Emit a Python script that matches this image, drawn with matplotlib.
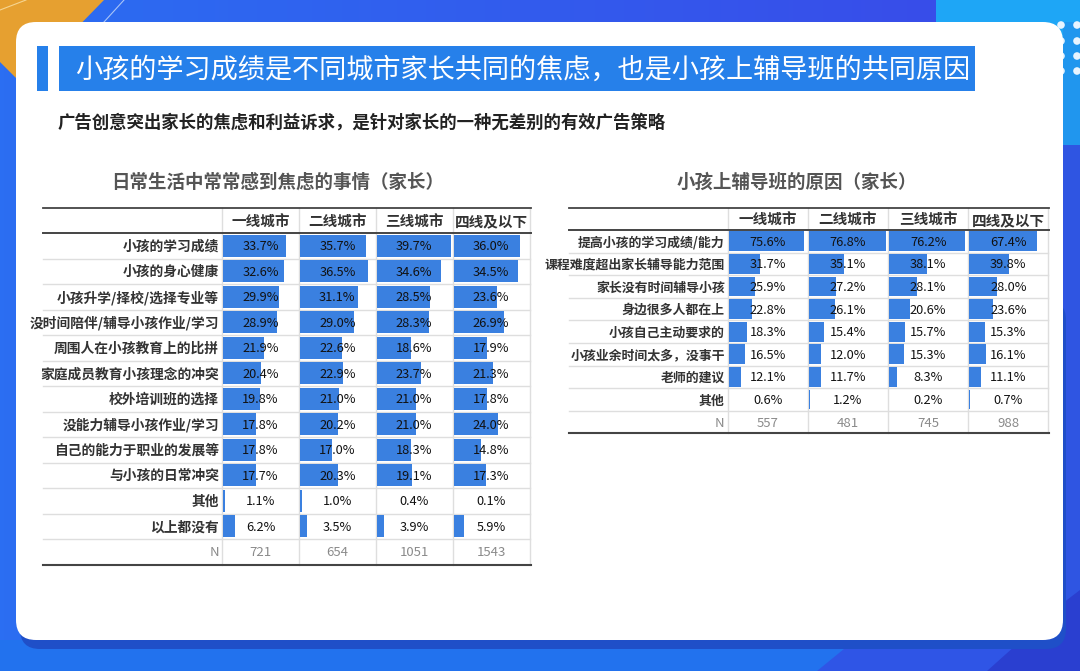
import numpy as np
import matplotlib
matplotlib.use('Agg')
import matplotlib.pyplot as plt
from matplotlib.patches import FancyBboxPatch, Rectangle, Polygon, Circle

plt.rcParams['font.family'] = ['Noto Sans CJK SC', 'DejaVu Sans']

W, H = 1080, 671

columns = ['一线城市', '二线城市', '三线城市', '四线及以下']

left_title = '日常生活中常常感到焦虑的事情（家长）'
left_labels = ['小孩的学习成绩', '小孩的身心健康', '小孩升学/择校/选择专业等', '没时间陪伴/辅导小孩作业/学习',
               '周围人在小孩教育上的比拼', '家庭成员教育小孩理念的冲突', '校外培训班的选择', '没能力辅导小孩作业/学习',
               '自己的能力于职业的发展等', '与小孩的日常冲突', '其他', '以上都没有']
left_tier1 = [33.7, 32.6, 29.9, 28.9, 21.9, 20.4, 19.8, 17.8, 17.8, 17.7, 1.1, 6.2]
left_tier2 = [35.7, 36.5, 31.1, 29.0, 22.6, 22.9, 21.0, 20.2, 17.0, 20.3, 1.0, 3.5]
left_tier3 = [39.7, 34.6, 28.5, 28.3, 18.6, 23.7, 21.0, 21.0, 18.3, 19.1, 0.4, 3.9]
left_tier4 = [36.0, 34.5, 23.6, 26.9, 17.9, 21.3, 17.8, 24.0, 14.8, 17.3, 0.1, 5.9]
left_n = [721, 654, 1051, 1543]

right_title = '小孩上辅导班的原因（家长）'
right_labels = ['提高小孩的学习成绩/能力', '课程难度超出家长辅导能力范围', '家长没有时间辅导小孩', '身边很多人都在上',
                '小孩自己主动要求的', '小孩业余时间太多，没事干', '老师的建议', '其他']
right_tier1 = [75.6, 31.7, 25.9, 22.8, 18.3, 16.5, 12.1, 0.6]
right_tier2 = [76.8, 35.1, 27.2, 26.1, 15.4, 12.0, 11.7, 1.2]
right_tier3 = [76.2, 38.1, 28.1, 20.6, 15.7, 15.3, 8.3, 0.2]
right_tier4 = [67.4, 39.8, 28.0, 23.6, 15.3, 16.1, 11.1, 0.7]
right_n = [557, 481, 745, 988]

BAR = '#3a80e0'
GRID = '#dedede'

fig = plt.figure(figsize=(W / 100, H / 100), dpi=100)
bg = fig.add_axes([0, 0, 1, 1])
bg.axis('off')

# background
grad = np.linspace(0, 1, 256).reshape(1, -1)
cm = matplotlib.colors.LinearSegmentedColormap.from_list('b', ['#2b6ef2', '#3a48e8'])
bg.imshow(grad, extent=[0, W, H, 0], cmap=cm, aspect='auto', zorder=0)
bg.set_xlim(0, W)
bg.set_ylim(H, 0)
bg.add_patch(Rectangle((0, 640), 860, 31, fc='#2272ee', ec='none', zorder=1))
bg.add_patch(Polygon([(817, 671), (855, 640), (1080, 640), (1080, 671)], fc='#2f55e6', ec='none', zorder=1))
bg.add_patch(Rectangle((1060, 145), 20, 500, fc='#2f55e2', ec='none', zorder=1))
bg.add_patch(Polygon([(987, 671), (1063, 603), (1080, 590), (1080, 671)], fc='#2a3fd0', ec='none', zorder=1))
bg.add_patch(Polygon([(0, 0), (104, 0), (60, 45), (16, 78), (0, 62)], fc='#e6a030', ec='none', zorder=1))
bg.add_patch(Rectangle((936, 0), 144, 145, fc='#1ea6f6', ec='none', zorder=1))
bg.add_patch(Rectangle((1063, 22), 17, 123, fc='#2096ee', ec='none', zorder=1))
bg.plot([0, 26], [10, 0], color='#f6d590', lw=0.8, zorder=1)
bg.plot([104, 124], [22, 0], color='#a9c4f7', lw=0.8, zorder=1)
for yy in [25, 41, 56, 71]:
    for xx in [1061, 1077]:
        bg.add_patch(Circle((xx, yy), 3.8, fc='#e8f4ff', ec='none', zorder=1))

# card with shadow
bg.add_patch(FancyBboxPatch((20, 300), 1046, 349, boxstyle='round,pad=0,rounding_size=20',
                            fc='#1f4fc8', ec='none', zorder=2))
bg.add_patch(FancyBboxPatch((16, 22), 1047, 618, boxstyle='round,pad=0,rounding_size=20',
                            fc='white', ec='none', zorder=3))

# heading
bg.add_patch(Rectangle((37, 46), 11, 45, fc='#2680ea', ec='none', zorder=4))
bg.add_patch(Rectangle((59, 46), 916, 45, fc='#2680ea', ec='none', zorder=4))
bg.text(75, 70.5, '小孩的学习成绩是不同城市家长共同的焦虑，也是小孩上辅导班的共同原因',
        color='white', fontsize=19.55, fontweight='medium', va='center', ha='left', zorder=5)
bg.text(58, 122.5, '广告创意突出家长的焦虑和利益诉求，是针对家长的一种无差别的有效广告策略',
        color='#222222', fontsize=12.55, fontweight='bold', va='center', ha='left', zorder=5)


def draw_table(title, title_x, labels, series, n_row, x0, seps, top, head, row_h, px_per, lab_size):
    n = len(labels)
    bottom = head + row_h * (n + 1)
    bg.text(title_x, 182, title, color='#555555', fontsize=13.3, fontweight='bold',
            ha='center', va='center', zorder=5)
    # header
    for j, c in enumerate(columns):
        bg.text((seps[j] + seps[j + 1]) / 2, (top + head) / 2 + 1, c, color='#333333', fontsize=10.5,
                fontweight='bold', ha='center', va='center', zorder=6)
    # rows and column separators
    for i in range(1, n + 1):
        y = head + row_h * i
        bg.plot([x0, seps[-1]], [y, y], color=GRID, lw=1.0, zorder=4)
    for s in seps:
        bg.plot([s, s], [top, bottom], color=GRID, lw=1.0, zorder=4)
    for i, lab in enumerate(labels):
        bg.text(seps[0] - 3, head + row_h * (i + 0.5) + 1, lab, color='#333333', fontsize=lab_size,
                fontweight='bold', ha='right', va='center', zorder=6)
    bg.text(seps[0] - 3, head + row_h * (n + 0.5) + 1, 'N', color='#8a8a8a', fontsize=9.5,
            ha='right', va='center', zorder=6)
    # one small axes per column
    for j, vals in enumerate(series):
        cx0, cx1 = seps[j] + 1, seps[j + 1] - 1
        ax = fig.add_axes([cx0 / W, 1 - (head + row_h * n) / H, (cx1 - cx0) / W, row_h * n / H], zorder=3)
        ax.patch.set_alpha(0)
        ax.barh(range(n), vals, height=0.88, color=BAR, zorder=2)
        ax.set_xlim(0, (cx1 - cx0) / px_per)
        ax.set_ylim(n - 0.5, -0.5)
        ax.axis('off')
        for i, v in enumerate(vals):
            ax.text((cx1 - cx0) / px_per / 2, i + 1 / row_h, '%.1f%%' % v, color='#111111', fontsize=9.2,
                    ha='center', va='center')
        bg.text((seps[j] + seps[j + 1]) / 2, head + row_h * (n + 0.5) + 1, str(n_row[j]), color='#8a8a8a',
                fontsize=9.5, ha='center', va='center', zorder=6)
    for y, lw in [(top, 1.3), (head, 1.4), (bottom, 1.5)]:
        bg.plot([x0, seps[-1] + 1], [y, y], color='#444444', lw=lw, zorder=5)


draw_table(left_title, 278, left_labels, [left_tier1, left_tier2, left_tier3, left_tier4], left_n,
           43, [222, 299, 375.7, 452.5, 529.6], 208, 233, 25.5, 1.86, 9.9)
draw_table(right_title, 797, right_labels, [right_tier1, right_tier2, right_tier3, right_tier4], right_n,
           568.6, [727.7, 807.9, 888, 968.4, 1048.3], 208, 230, 22.6, 1.0, 9.3)

fig.savefig('out.png', dpi=100)
